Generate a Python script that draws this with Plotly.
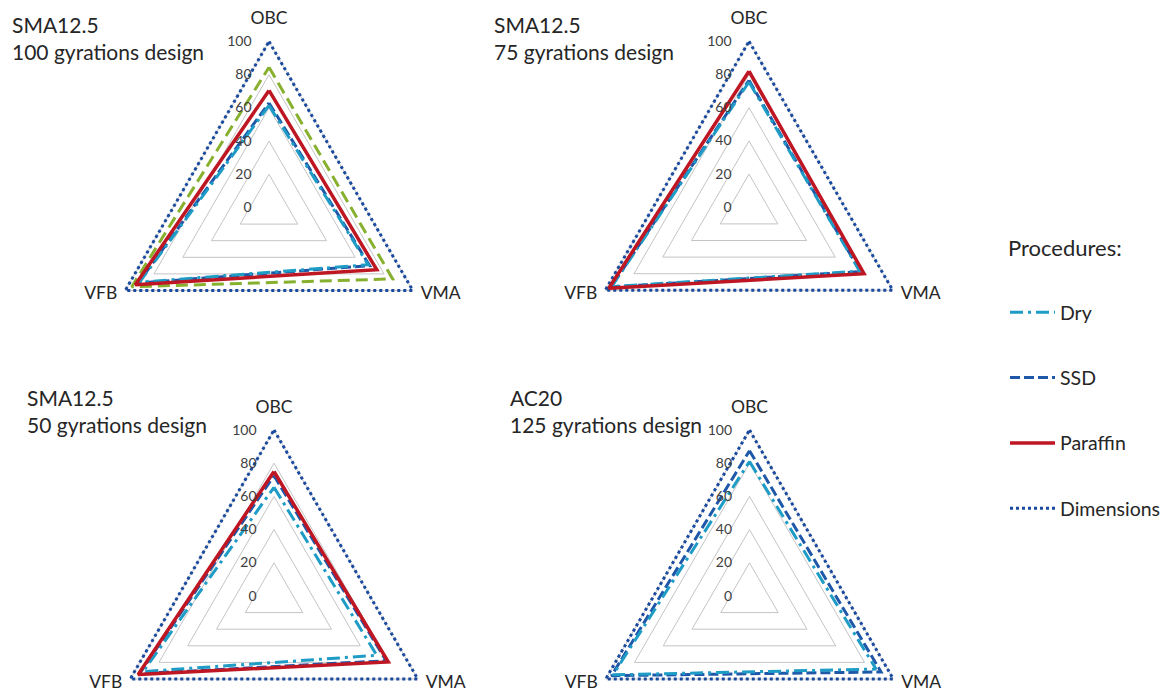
import plotly.graph_objects as go

# ---------------------------------------------------------------- data
categories = ["OBC", "VMA", "VFB"]
radial_ticks = [0, 20, 40, 60, 80, 100]

panel_titles = [
    "SMA12.5<br>100 gyrations design",
    "SMA12.5<br>75 gyrations design",
    "SMA12.5<br>50 gyrations design",
    "AC20<br>125 gyrations design",
]

# one row per panel, values in category order (OBC, VMA, VFB)
dry = [
    [61.5, 69, 90],
    [75.5, 77, 95.5],
    [65.5, 71.5, 91],
    [81, 88, 95],
]
ssd = [
    [63, 70, 91],
    [76.5, 77.5, 96],
    [72.5, 78, 93.5],
    [87.5, 91.5, 96],
]
paraffin = [
    [70.5, 75, 93],
    [82, 80, 97.5],
    [75, 79.5, 94.5],
    None,
]
dimensions = [
    [100, 100, 100],
    [100, 100, 100],
    [100, 100, 100],
    [100, 100, 100],
]
# additional dashed series shown only in the 100-gyration panel
sma100_extra = [84.5, 86, 95.5]

# radial placement of the category labels (OBC, VMA, VFB)
label_r = [113, 105.5, 105.5]
label_pos = ["middle center", "middle right", "middle left"]

# ---------------------------------------------------------------- styling
W, H = 1168, 790
FONT = "Lato"
TEXT = "#262626"
GRID = "#C4C4C4"
R100 = 166            # pixel radius of the 100 level
R_MAX = 116           # radial range upper bound (room for the corner labels)
R_DOMAIN = R100 * R_MAX / 100

centers = [(269, 207.5), (749, 207.3), (274, 596), (749.5, 596)]
title_pos = [(10, 10.5), (492, 10.5), (25, 382.5), (508, 383.5)]

styles = {
    "Dry": dict(color="#1E9CC6", width=3, dash="13px,5px,3px,5px"),
    "SSD": dict(color="#1F58A8", width=3, dash="10px,4px"),
    "Paraffin": dict(color="#BE1622", width=3.5, dash="solid"),
    "Dimensions": dict(color="#1A4A9E", width=3, dash="dot"),
}
extra_style = dict(color="#86B02E", width=3, dash="12px,6px")
legend_rank = {"Dry": 1, "SSD": 2, "Paraffin": 3, "Dimensions": 4}


def closed(vals):
    return list(vals) + [vals[0]]


theta_closed = closed(categories)

fig = go.Figure()

for i in range(4):
    sub = "polar" if i == 0 else f"polar{i + 1}"
    series = [
        ("Dimensions", dimensions[i]),
        ("SSD", ssd[i]),
        ("Dry", dry[i]),
        ("Paraffin", paraffin[i]),
    ]
    if i == 0:
        fig.add_trace(go.Scatterpolar(
            r=closed(sma100_extra), theta=theta_closed, mode="lines",
            line=extra_style, subplot=sub, showlegend=False,
            name="SMA12.5 100", hoverinfo="skip",
        ))
    for name, vals in series:
        if vals is None:
            continue
        fig.add_trace(go.Scatterpolar(
            r=closed(vals), theta=theta_closed, mode="lines",
            line=styles[name], subplot=sub, name=name,
            legendgroup=name, legendrank=legend_rank[name],
            showlegend=(i == 0),
        ))
    # category names at the triangle corners
    fig.add_trace(go.Scatterpolar(
        r=label_r, theta=categories, mode="text", text=categories,
        textposition=label_pos, cliponaxis=False, subplot=sub,
        textfont=dict(family=FONT, size=17.5, color=TEXT),
        showlegend=False, hoverinfo="skip",
    ))

polar_layouts = {}
for i, (cx, cy) in enumerate(centers):
    key = "polar" if i == 0 else f"polar{i + 1}"
    polar_layouts[key] = dict(
        domain=dict(
            x=[(cx - R_DOMAIN) / W, (cx + R_DOMAIN) / W],
            y=[(H - cy - R_DOMAIN) / H, (H - cy + R_DOMAIN) / H],
        ),
        gridshape="linear",
        bgcolor="rgba(0,0,0,0)",
        radialaxis=dict(
            range=[0, R_MAX], tickvals=radial_ticks, angle=90,
            side="counterclockwise", tickangle=90,
            showline=False, ticks="outside", ticklen=12,
            tickcolor="rgba(0,0,0,0)",
            gridcolor=GRID, gridwidth=1.2,
            tickfont=dict(family=FONT, size=14, color="#404040"),
            layer="above traces",
        ),
        angularaxis=dict(
            categoryorder="array", categoryarray=categories,
            rotation=90, direction="clockwise",
            showline=False, showgrid=False, ticks="",
            showticklabels=False,
        ),
    )

annotations = []
for (x0, y0), txt in zip(title_pos, panel_titles):
    annotations.append(dict(
        text=txt, x=x0 / W, y=1 - y0 / H, xref="paper", yref="paper",
        xanchor="left", yanchor="top", align="left", showarrow=False,
        font=dict(family=FONT, size=21, color=TEXT),
    ))
annotations.append(dict(
    text="Procedures:", x=1006 / W, y=1 - 247 / H, xref="paper", yref="paper",
    xanchor="left", yanchor="middle", showarrow=False,
    font=dict(family=FONT, size=22, color=TEXT),
))

fig.update_layout(
    width=W, height=H,
    margin=dict(l=0, r=0, t=0, b=0),
    paper_bgcolor="white",
    font=dict(family=FONT, color=TEXT),
    showlegend=True,
    legend=dict(
        x=1005 / W, y=1 - 293 / H, xanchor="left", yanchor="top",
        traceorder="grouped", tracegroupgap=37, itemwidth=45,
        font=dict(family=FONT, size=19.5, color=TEXT),
        bgcolor="rgba(0,0,0,0)",
    ),
    annotations=annotations,
    **polar_layouts,
)

# the drawing area is 693 px tall; the lower circles' unused space is hidden
post = (
    "document.documentElement.style.overflow='hidden';"
    "document.body.style.margin='0';"
    "document.body.style.overflow='hidden';"
    "var g=document.getElementById('{plot_id}');"
    "g.parentElement.style.height='693px';"
    "g.parentElement.style.overflow='hidden';"
)
fig.write_html("out.html", post_script=post)
